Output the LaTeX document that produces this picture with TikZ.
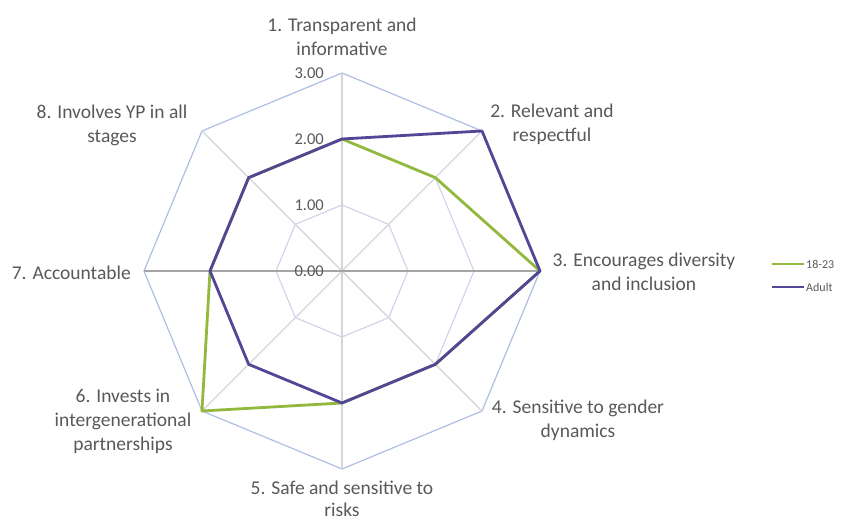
\documentclass[tikz,border=0pt]{standalone}
\usepackage{fontspec}
\setmainfont{Carlito}
\definecolor{txt}{RGB}{89,89,89}
\definecolor{gridc}{RGB}{205,210,232}
\definecolor{outerc}{RGB}{175,190,228}
\definecolor{spokec}{RGB}{212,212,218}
\definecolor{axisc}{RGB}{165,165,165}
\definecolor{seryg}{RGB}{146,184,62}
\definecolor{serya}{RGB}{82,70,150}
\begin{document}
\begin{tikzpicture}[x=1pt,y=1pt,
  lbl/.style={align=center, font=\fontsize{19.5}{24}\selectfont, text=txt, inner sep=0pt},
  tick/.style={anchor=east, font=\fontsize{16.5}{18}\selectfont, text=txt, inner sep=0pt},
  leg/.style={anchor=west, font=\fontsize{12}{14}\selectfont, text=txt, inner sep=0pt},
  gridline/.style={draw=gridc, line width=1.1pt},
  outerline/.style={draw=outerc, line width=1.2pt},
  spoke/.style={draw=spokec, line width=1.1pt},
  axisline/.style={draw=axisc, line width=1.2pt},
  serg/.style={draw=seryg, line width=2.8pt, line join=round},
  sera/.style={draw=serya, line width=2.8pt, line join=round}]
\useasboundingbox (0,0) rectangle (847,524);
\fill[white] (0,0) rectangle (847,524);
\coordinate (C) at (342,253);
\begin{scope}[shift={(342,253)}]
  \foreach \k in {1,...,8} {
    \coordinate (o\k) at ({90-45*(\k-1)}:198);
    \coordinate (m\k) at ({90-45*(\k-1)}:132);
    \coordinate (n\k) at ({90-45*(\k-1)}:66);
  }
  \foreach \v [count=\k] in {2,2,3,2,2,3,2,2}
    \coordinate (g\k) at ({90-45*(\k-1)}:{66*\v});
  \foreach \v [count=\k] in {2,3,3,2,2,2,2,2}
    \coordinate (a\k) at ({90-45*(\k-1)}:{66*\v});
\end{scope}
% grid
\draw[gridline] (n1) -- (n2) -- (n3) -- (n4) -- (n5) -- (n6) -- (n7) -- (n8) -- cycle;
\draw[gridline] (m1) -- (m2) -- (m3) -- (m4) -- (m5) -- (m6) -- (m7) -- (m8) -- cycle;
\draw[outerline] (o1) -- (o2) -- (o3) -- (o4) -- (o5) -- (o6) -- (o7) -- (o8) -- cycle;
\foreach \k in {1,2,4,5,6,8} \draw[spoke] (C) -- (o\k);
\draw[axisline] (o7) -- (o3);
% series
\draw[serg] (g1) -- (g2) -- (g3) -- (g4) -- (g5) -- (g6) -- (g7) -- (g8) -- cycle;
\draw[sera] (a1) -- (a2) -- (a3) -- (a4) -- (a5) -- (a6) -- (a7) -- (a8) -- cycle;
% tick labels
\node[tick] (t0) at (324,253) {0.00};
\node[tick] (t1) at (324,319) {1.00};
\node[tick] (t2) at (324,385) {2.00};
\node[tick] (t3) at (324,451) {3.00};
% category labels
\node[lbl] (l1) at (342,487) {1. Transparent and\\informative};
\node[lbl] (l2) at (552,400) {2. Relevant and\\respectful};
\node[lbl] (l3) at (644,252) {3. Encourages diversity\\and inclusion};
\node[lbl] (l4) at (578,104) {4. Sensitive to gender\\dynamics};
\node[lbl, font=\fontsize{19.5}{22}\selectfont] (l5) at (342,25) {5. Safe and sensitive to\\risks};
\node[lbl] (l6) at (123,103) {6. Invests in\\intergenerational\\partnerships};
\node[lbl, anchor=east] (l7) at (131,251) {7. Accountable};
\node[lbl] (l8) at (112,399) {8. Involves YP in all\\stages};
% legend
\coordinate (lg1) at (772,260);
\coordinate (lg2) at (804,260);
\coordinate (la1) at (772,237);
\coordinate (la2) at (804,237);
\draw[draw=seryg, line width=1.6pt] (lg1) -- (lg2);
\draw[draw=serya, line width=1.6pt] (la1) -- (la2);
\node[leg] (lgt) at (806,260) {18-23};
\node[leg] (lat) at (806,237) {Adult};
\end{tikzpicture}
\end{document}
